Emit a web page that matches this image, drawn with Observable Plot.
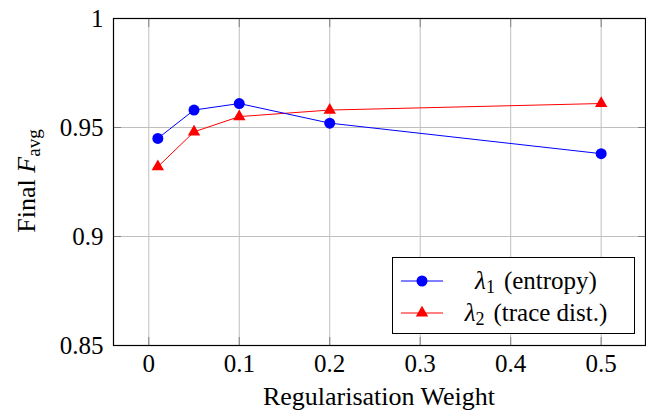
<!DOCTYPE html>
<html>
<head>
<meta charset="utf-8">
<script src="https://cdn.jsdelivr.net/npm/d3@7"></script>
<script src="https://cdn.jsdelivr.net/npm/@observablehq/plot@0.6"></script>
<style>
  html, body { margin: 0; padding: 0; background: #fff; }
  #chart { width: 646px; height: 410px; }
</style>
</head>
<body>
<div id="chart"></div>
<script>
const weights = [0.01, 0.05, 0.1, 0.2, 0.5];
const entropyVals = [0.945, 0.958, 0.961, 0.952, 0.938];
const traceVals = [0.932, 0.948, 0.955, 0.958, 0.961];
const xTicks = [0, 0.1, 0.2, 0.3, 0.4, 0.5];
const yTicks = [0.85, 0.9, 0.95, 1];
const yTickLabels = ["0.85", "0.9", "0.95", "1"];
const xTickLabels = ["0", "0.1", "0.2", "0.3", "0.4", "0.5"];

const entropy = weights.map((w, i) => ({x: w, y: entropyVals[i]}));
const trace = weights.map((w, i) => ({x: w, y: traceVals[i]}));

const FONT = "Liberation Serif";
const blue = "#0000ff", red = "#ff0000";

const chart = Plot.plot({
  width: 646,
  height: 410,
  marginLeft: 113,
  marginRight: 1,
  marginTop: 18,
  marginBottom: 65,
  style: {background: "white", color: "black", fontFamily: FONT},
  x: {domain: [-0.039, 0.549]},
  y: {domain: [0.85, 1]},
  marks: [
    Plot.gridX(xTicks, {stroke: "#bfbfbf", strokeOpacity: 1, strokeWidth: 1}),
    Plot.gridY(yTicks, {stroke: "#bfbfbf", strokeOpacity: 1, strokeWidth: 1}),
    Plot.axisX(xTicks, {anchor: "bottom", tickSize: -8, stroke: "#808080", tickFormat: () => "", label: null}),
    Plot.axisX(xTicks, {anchor: "top", tickSize: -8, stroke: "#808080", tickFormat: () => "", label: null}),
    Plot.axisY(yTicks, {anchor: "left", tickSize: -8, stroke: "#808080", tickFormat: () => "", label: null}),
    Plot.axisY(yTicks, {anchor: "right", tickSize: -8, stroke: "#808080", tickFormat: () => "", label: null}),
    Plot.axisX(xTicks, {anchor: "bottom", tickSize: 0, tickPadding: 9, tickFormat: (d, i) => xTickLabels[i], label: null, fontSize: 25}),
    Plot.axisY(yTicks, {anchor: "left", tickSize: 0, tickPadding: 10, tickFormat: (d, i) => yTickLabels[i], label: null, fontSize: 25}),
    Plot.frame({stroke: "black", strokeWidth: 1.2}),
    Plot.line(trace, {x: "x", y: "y", stroke: red, strokeWidth: 1}),
    Plot.line(entropy, {x: "x", y: "y", stroke: blue, strokeWidth: 1}),
    Plot.dot(entropy, {x: "x", y: "y", r: 5.5, fill: blue, stroke: "none"}),
    Plot.dot(trace, {x: "x", y: "y", r: 4.6, symbol: "triangle", fill: red, stroke: "none"})
  ]
});

document.getElementById("chart").appendChild(chart);

const svg = d3.select(chart);

// X axis label
svg.append("text")
  .attr("x", 379).attr("y", 405)
  .attr("text-anchor", "middle")
  .attr("font-family", FONT)
  .attr("font-size", 26)
  .text("Regularisation Weight");

// Y axis label with subscript
const yl = svg.append("text")
  .attr("transform", "translate(35,181) rotate(-90)")
  .attr("text-anchor", "middle")
  .attr("font-family", FONT)
  .attr("font-size", 26);
yl.append("tspan").text("Final ");
yl.append("tspan").attr("font-style", "italic").text("F");
yl.append("tspan").attr("dy", 5).attr("font-size", 19).text("avg");

// Legend
const lg = svg.append("g");
lg.append("rect").attr("x", 392.5).attr("y", 257.5).attr("width", 242).attr("height", 76)
  .attr("fill", "white").attr("stroke", "black").attr("stroke-width", 1);
const entries = [
  {color: blue, sym: "circle", name: "1", desc: "(entropy)", y: 281},
  {color: red, sym: "triangle", name: "2", desc: "(trace dist.)", y: 313}
];
entries.forEach(e => {
  lg.append("line").attr("x1", 401).attr("x2", 443).attr("y1", e.y).attr("y2", e.y)
    .attr("stroke", e.color).attr("stroke-width", 1);
  if (e.sym === "circle") {
    lg.append("circle").attr("cx", 422).attr("cy", e.y).attr("r", 5.5).attr("fill", e.color);
  } else {
    lg.append("path").attr("transform", `translate(422,${e.y})`)
      .attr("d", d3.symbol(d3.symbolTriangle, 66)()).attr("fill", e.color);
  }
  const t = lg.append("text").attr("x", 536).attr("y", e.y + 8)
    .attr("text-anchor", "middle")
    .attr("font-family", FONT)
    .attr("font-size", 25);
  t.append("tspan").attr("font-style", "italic").text("λ");
  t.append("tspan").attr("dy", 4).attr("font-size", 18).text(e.name);
  t.append("tspan").attr("dy", -4).attr("dx", 9).text(e.desc);
});
</script>
</body>
</html>
